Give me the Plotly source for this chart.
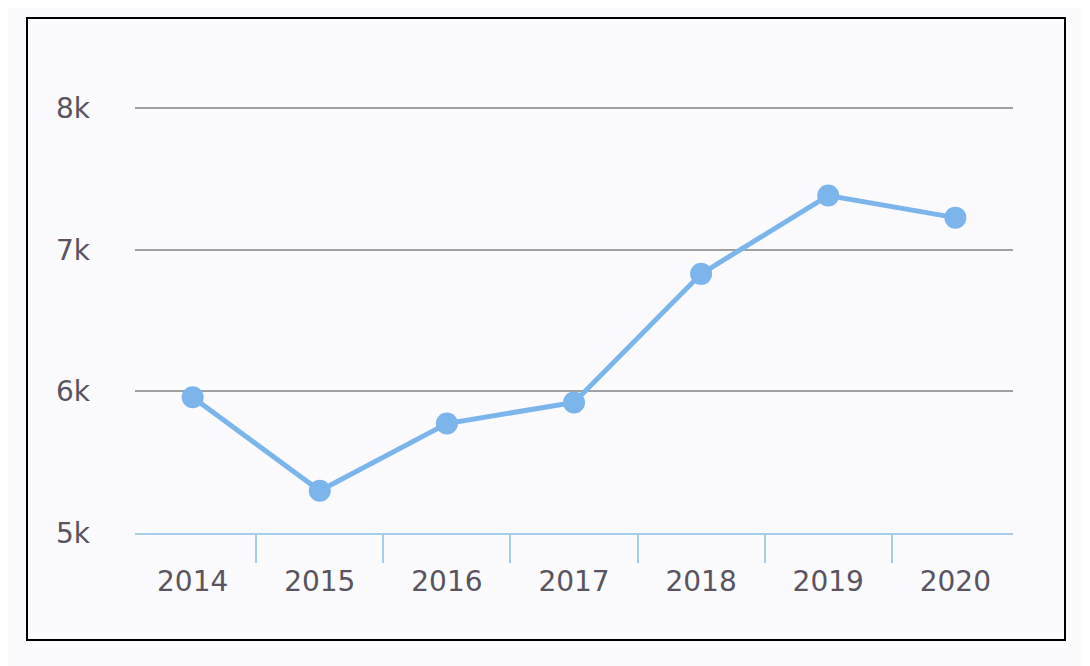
import plotly.graph_objects as go

years = ["2014", "2015", "2016", "2017", "2018", "2019", "2020"]
values = [5958, 5298, 5773, 5922, 6830, 7383, 7227]
ytick_vals = [5000, 6000, 7000, 8000]
ytick_text = ["5k", "6k", "7k", "8k"]

fig = go.Figure(go.Scatter(
    x=years, y=values, mode="lines+markers",
    line=dict(color="#7cb5ec", width=5),
    marker=dict(color="#7cb5ec", size=22),
))
off = 8
ytop = 8100
L, R, B = 135 - off, 77 + off, 133 + off
T = 108 - off - round((ytop - 8000) * 425 / 3000)
W, H = 1090, 666
pw, ph = W - L - R, H - T - B
fig.update_layout(
    width=W, height=H, margin=dict(l=L, r=R, t=T, b=B),
    paper_bgcolor="#fbfafd", plot_bgcolor="#fbfafd", showlegend=False,
    font=dict(family="DejaVu Sans", size=28, color="#5a5460"),
    xaxis=dict(type="category", showgrid=False, showline=True, linecolor="#a9cde8",
               linewidth=2, ticks="outside", tickson="boundaries", ticklen=28,
               tickcolor="#a9cde8", tickwidth=2, ticklabelstandoff=22),
    yaxis=dict(range=[5000, ytop], tickvals=ytick_vals, ticktext=ytick_text,
               showgrid=True, gridcolor="#a0a0a0", gridwidth=1.5, zeroline=False,
               ticks="", ticklabelstandoff=44),
    shapes=[dict(type="rect", xref="paper", yref="paper",
                 x0=(27 - 135) / pw, x1=(1065 - 135) / pw,
                 y0=(533 - 640) / ph, y1=(533 - 18) / ph,
                 line=dict(color="black", width=2))],
)
fig.write_html("out.html")
